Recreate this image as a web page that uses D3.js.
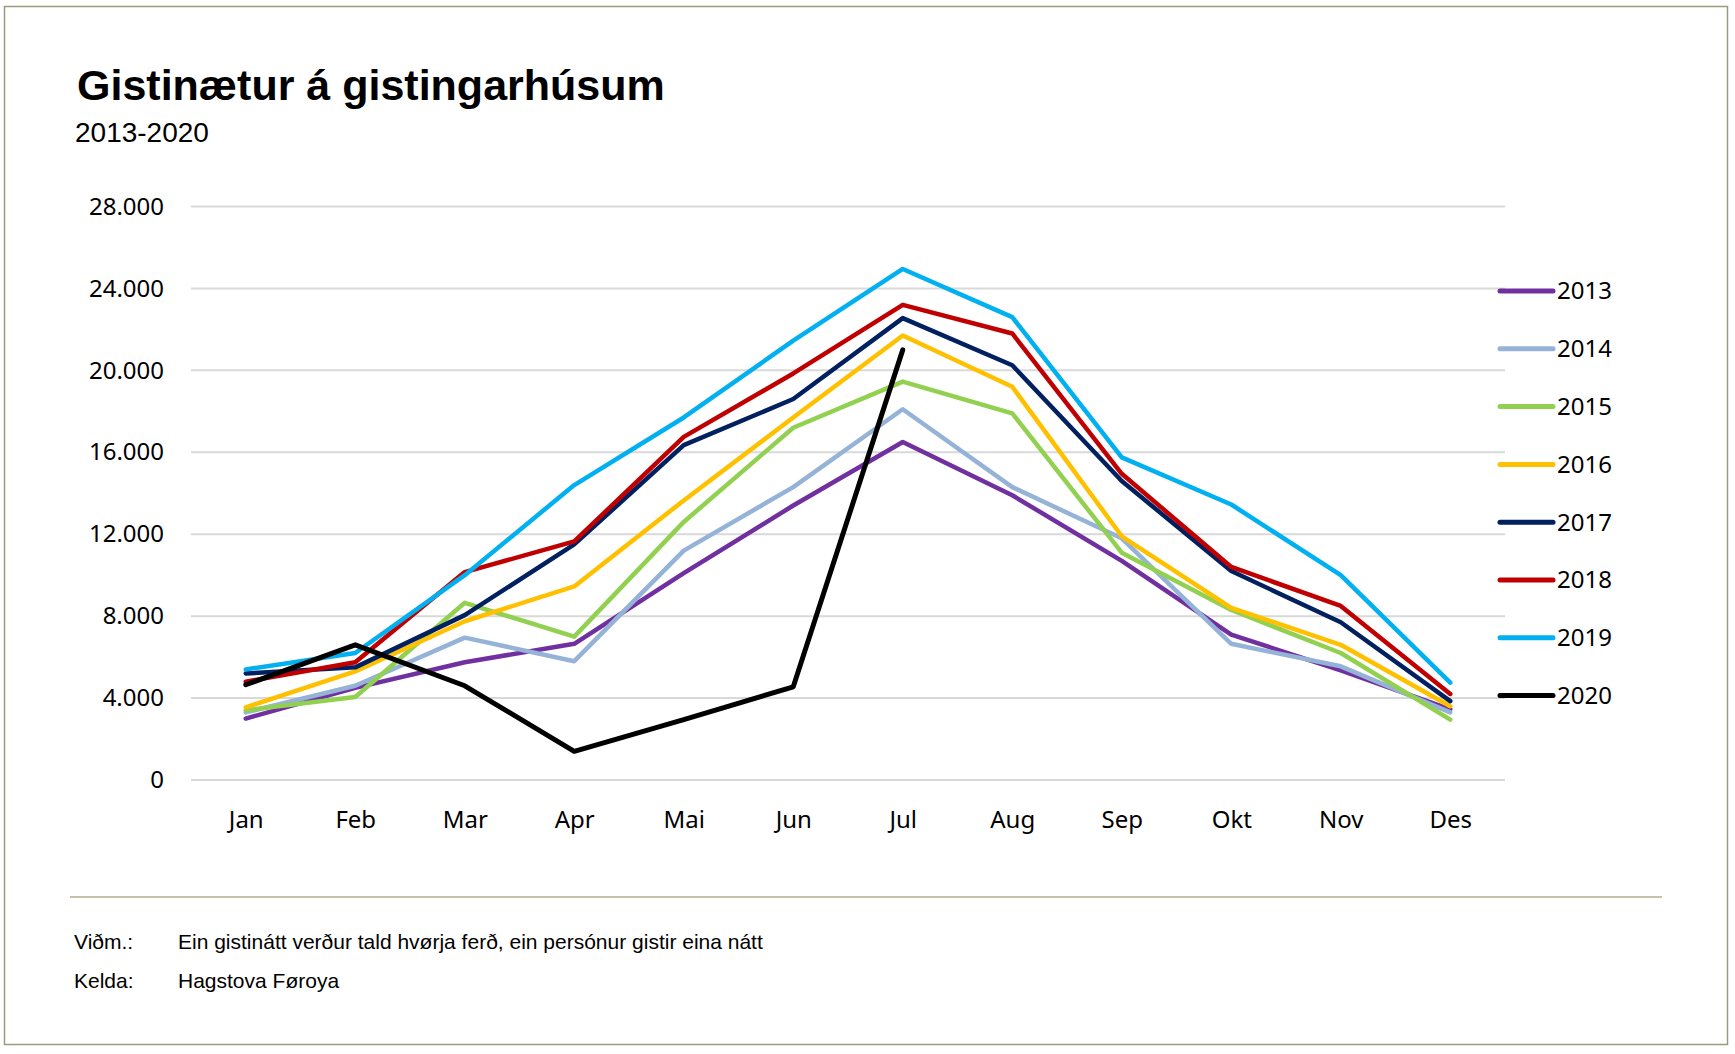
<!DOCTYPE html>
<html>
<head>
<meta charset="utf-8">
<script src="https://cdn.jsdelivr.net/npm/d3@7"></script>
<style>
  body { margin: 0; background: #fff; }
  svg { display: block; }
</style>
</head>
<body>
<div id="chart"></div>
<script>
const months = ["Jan", "Feb", "Mar", "Apr", "Mai", "Jun", "Jul", "Aug", "Sep", "Okt", "Nov", "Des"];
const years = ["2013", "2014", "2015", "2016", "2017", "2018", "2019", "2020"];
const colors = ["#7030a0", "#95b3d7", "#92d050", "#ffc000", "#002060", "#c00000", "#00b0f0", "#000000"];
const yTicks = [0, 4000, 8000, 12000, 16000, 20000, 24000, 28000];

const v2013 = [3000, 4500, 5750, 6650, 10100, 13400, 16500, 13900, 10700, 7100, 5350, 3450];
const v2014 = [3300, 4600, 6950, 5800, 11200, 14300, 18100, 14300, 11800, 6650, 5550, 3300];
const v2015 = [3400, 4050, 8650, 7000, 12600, 17200, 19450, 17900, 11100, 8300, 6200, 2950];
const v2016 = [3550, 5300, 7750, 9450, 13650, 17700, 21700, 19200, 11900, 8400, 6600, 3600];
const v2017 = [5200, 5500, 8050, 11500, 16350, 18600, 22550, 20250, 14600, 10200, 7700, 3850];
const v2018 = [4800, 5750, 10150, 11650, 16750, 19850, 23200, 21800, 14950, 10400, 8500, 4200];
const v2019 = [5400, 6200, 10000, 14400, 17700, 21450, 24950, 22600, 15750, 13450, 10000, 4750];
const v2020 = [4650, 6600, 4600, 1400, 2950, 4550, 21000];

const series = [v2013, v2014, v2015, v2016, v2017, v2018, v2019, v2020];

const width = 1735;
const height = 1054;

const svg = d3.select("#chart")
  .append("svg")
  .attr("width", width)
  .attr("height", height);

// outer frame
svg.append("rect")
  .attr("x", 4.5)
  .attr("y", 6.5)
  .attr("width", 1723)
  .attr("height", 1038)
  .attr("fill", "none")
  .attr("stroke", "#9a9a7c")
  .attr("stroke-width", 1.5);

svg.append("text")
  .attr("x", 77)
  .attr("y", 100)
  .attr("font-family", "'Liberation Sans', Arial, sans-serif")
  .attr("font-weight", "bold")
  .attr("font-size", 43)
  .text("Gistinætur á gistingarhúsum");

svg.append("text")
  .attr("x", 75)
  .attr("y", 142)
  .attr("font-family", "'Liberation Sans', Arial, sans-serif")
  .attr("font-size", 28)
  .text("2013-2020");

const x = d3.scalePoint()
  .domain(months)
  .range([191, 1505])
  .padding(0.5);

const y = d3.scaleLinear()
  .domain([0, 28000])
  .range([780, 206.5]);

const fmt = (d) => d3.format(",")(d).replace(/,/g, ".");

// gridlines
svg.append("g")
  .selectAll("line")
  .data(yTicks)
  .enter()
  .append("line")
  .attr("x1", 191)
  .attr("x2", 1505)
  .attr("y1", (d) => y(d))
  .attr("y2", (d) => y(d))
  .attr("stroke", "#d9d9d9")
  .attr("stroke-width", 2);

const yAxis = svg.append("g")
  .attr("transform", "translate(191,0)")
  .call(d3.axisLeft(y).tickValues(yTicks).tickFormat(fmt).tickSize(0).tickPadding(27));
yAxis.select(".domain").remove();
yAxis.selectAll("text")
  .attr("font-family", "'Noto Sans', 'Open Sans', sans-serif")
  .attr("font-size", 24)
  .attr("fill", "#000");

const xAxis = svg.append("g")
  .attr("transform", "translate(0,780)")
  .call(d3.axisBottom(x).tickSize(0).tickPadding(31));
xAxis.select(".domain").remove();
xAxis.selectAll("text")
  .attr("font-family", "'Noto Sans', 'Open Sans', sans-serif")
  .attr("font-size", 24)
  .attr("fill", "#000");

const line = d3.line()
  .x((d, i) => x(months[i]))
  .y((d) => y(d));

svg.append("g")
  .selectAll("path")
  .data(series)
  .enter()
  .append("path")
  .attr("d", line)
  .attr("fill", "none")
  .attr("stroke", (d, i) => colors[i])
  .attr("stroke-width", (d, i) => (i === 7 ? 5 : 4.5))
  .attr("stroke-linejoin", "round")
  .attr("stroke-linecap", "round");

// legend
const legend = svg.append("g")
  .selectAll("g")
  .data(years)
  .enter()
  .append("g")
  .attr("transform", (d, i) => "translate(1498," + (291 + i * 57.8) + ")");

legend.append("line")
  .attr("x1", 2)
  .attr("x2", 55)
  .attr("stroke", (d, i) => colors[i])
  .attr("stroke-width", 5)
  .attr("stroke-linecap", "round");

legend.append("text")
  .attr("x", 59)
  .attr("dy", "0.35em")
  .attr("font-family", "'Noto Sans', 'Open Sans', sans-serif")
  .attr("font-size", 24)
  .text((d) => d);

// footer
svg.append("line")
  .attr("x1", 70)
  .attr("x2", 1662)
  .attr("y1", 897)
  .attr("y2", 897)
  .attr("stroke", "#c6c1a8")
  .attr("stroke-width", 2);

const notes = [
  ["Viðm.:", "Ein gistinátt verður tald hvørja ferð, ein persónur gistir eina nátt"],
  ["Kelda:", "Hagstova Føroya"]
];

const foot = svg.append("g")
  .selectAll("g")
  .data(notes)
  .enter()
  .append("g")
  .attr("transform", (d, i) => "translate(0," + (949 + i * 39) + ")")
  .attr("font-family", "'Liberation Sans', Arial, sans-serif")
  .attr("font-size", 21);

foot.append("text").attr("x", 74).text((d) => d[0]);
foot.append("text").attr("x", 178).text((d) => d[1]);
</script>
</body>
</html>
